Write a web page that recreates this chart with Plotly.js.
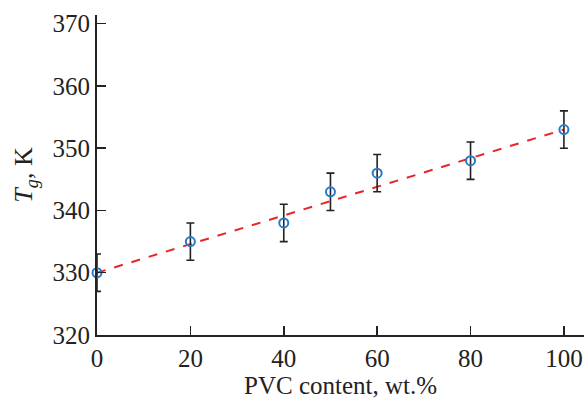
<!DOCTYPE html>
<html><head><meta charset="utf-8">
<script src="https://cdn.plot.ly/plotly-3.0.1.min.js"></script>
<style>html,body{margin:0;padding:0;background:#fff}</style>
</head><body><div id="chart" style="width:584px;height:398px"></div>
<script>
const pvcContent = [0, 20, 40, 50, 60, 80, 100];
const tgValues = [330, 335, 338, 343, 346, 348, 353];
const tgErrors = [3, 3, 3, 3, 3, 3, 3];
const fitX = [0, 100];
const fitY = [330, 353];
const xTicks = [0, 20, 40, 60, 80, 100];
const yTicks = [320, 330, 340, 350, 360, 370];
const xTitle = 'PVC content, wt.%';
const yTitle = '<i>T</i><sub><i>g</i></sub>, K';

const traces = [
  {x: fitX, y: fitY, mode: 'lines', type: 'scatter',
   line: {color: '#e8262a', width: 2, dash: 'dash'}, hoverinfo: 'skip', cliponaxis: false},
  {x: pvcContent, y: tgValues, mode: 'markers', type: 'scatter', cliponaxis: false,
   marker: {symbol: 'circle-open', size: 9, color: '#2878cc', line: {width: 2, color: '#2878cc'}},
   error_y: {type: 'data', array: tgErrors, visible: true, color: '#222', thickness: 1.6, width: 4}}
];
const font = {family: '"Liberation Serif", "Times New Roman", serif', color: '#222'};
const layout = {
  width: 584, height: 398, showlegend: false,
  margin: {l: 97, r: 0, t: 15, b: 63},
  paper_bgcolor: '#fff', plot_bgcolor: '#fff',
  font: font,
  xaxis: {range: [0, 104.3], tickvals: xTicks, ticks: 'inside', ticklen: 9, tickwidth: 1.5, tickcolor: '#222',
    showline: true, linewidth: 2, linecolor: '#222', showgrid: false, zeroline: false,
    tickfont: {family: font.family, size: 25, color: '#222'}},
  yaxis: {range: [320, 371.4], tickvals: yTicks, ticks: 'inside', ticklen: 9, tickwidth: 1.5, tickcolor: '#222',
    showline: true, linewidth: 2, linecolor: '#222', showgrid: false, zeroline: false,
    tickfont: {family: font.family, size: 25, color: '#222'},
    title: {text: yTitle, font: {family: font.family, size: 26, color: '#222'}, standoff: 12}},
  annotations: [
    {text: xTitle, xref: 'paper', yref: 'paper', x: 0.5, y: -0.158, xanchor: 'center', yanchor: 'middle',
     showarrow: false, font: {family: font.family, size: 25, color: '#222'}}
  ]
};
Plotly.newPlot('chart', traces, layout, {staticPlot: true, displayModeBar: false});
</script></body></html>
